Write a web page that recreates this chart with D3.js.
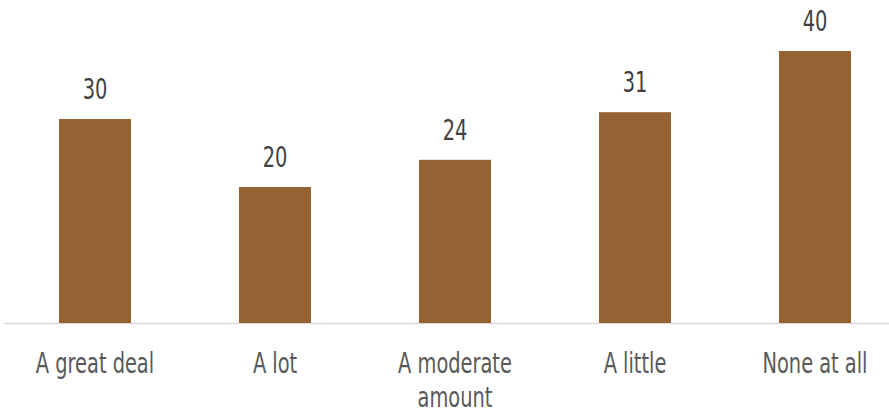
<!DOCTYPE html>
<html><head><meta charset="utf-8">
<script src="https://cdn.jsdelivr.net/npm/d3@7"></script>
<style>body{margin:0;background:#fff}svg{display:block}</style>
</head><body>
<script>
const categories = ["A great deal", "A lot", "A moderate amount", "A little", "None at all"];
const labelLines = [["A great deal"], ["A lot"], ["A moderate", "amount"], ["A little"], ["None at all"]];
const values = [30, 20, 24, 31, 40];

const W = 889, H = 413;
const font = "'DejaVu Sans Condensed','Liberation Sans Narrow',sans-serif";
const sx = 0.77;
const svg = d3.select("body").append("svg").attr("width", W).attr("height", H);

const x = d3.scaleBand().domain(categories).range([5, 905]).paddingInner(0.6).paddingOuter(0.3);
const y = d3.scaleLinear().domain([0, 40]).range([323, 51]);

svg.append("line").attr("x1", 4).attr("x2", 889).attr("y1", y(0)+0.5).attr("y2", y(0)+0.5)
  .attr("stroke", "#d9d9d9").attr("stroke-width", 1.5);

svg.selectAll("rect.bar").data(values).join("rect").attr("class", "bar")
  .attr("x", (d, i) => x(categories[i])).attr("width", x.bandwidth())
  .attr("y", d => y(d)).attr("height", d => y(0) - y(d))
  .attr("fill", "#956233");

svg.selectAll("text.val").data(values).join("text").attr("class", "val")
  .attr("transform", (d, i) => `translate(${x(categories[i]) + x.bandwidth() / 2},${y(d) - 20}) scale(${sx},1)`)
  .attr("text-anchor", "middle").attr("font-family", font).attr("font-size", 28)
  .attr("fill", "#404040").text(d => d);

const cat = svg.selectAll("text.cat").data(labelLines).join("text").attr("class", "cat")
  .attr("transform", (d, i) => `translate(${x(categories[i]) + x.bandwidth() / 2},0) scale(${sx},1)`)
  .attr("text-anchor", "middle").attr("font-family", font).attr("font-size", 28)
  .attr("fill", "#595959");
cat.each(function(lines, i) {
  const t = d3.select(this);
  lines.forEach((ln, j) => {
    t.append("tspan").attr("x", 0).attr("y", 373 + j * 34).text(ln);
  });
});
</script>
</body></html>
